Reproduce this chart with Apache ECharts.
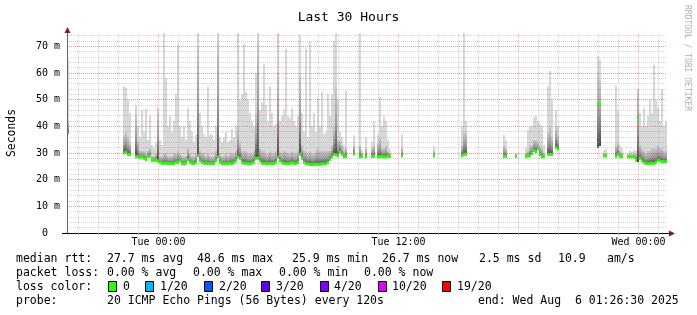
<!DOCTYPE html>
<html><head><meta charset="utf-8">
<script src="https://cdn.jsdelivr.net/npm/echarts@6/dist/echarts.min.js"></script>
<style>html,body{margin:0;padding:0;background:#fff}#c{width:697px;height:315px}</style>
</head><body><div id="c"></div>
<script>
const _ = null;
// time axis in hours relative to Tue 00:00; one column = 6 minutes
const stepHours = 0.1;
const startHour = -4.575;   // ~Mon 19:26
const endHour = 25.425;     // ~Wed 01:26

const medianRtt = [
37.5,_,_,_,_,_,_,_,_,_,
_,_,_,_,_,_,_,_,_,_,
_,_,_,_,_,_,_,_,30,30.3,
29.5,29.4,_,_,28.6,28.6,28.2,28.5,28,27.5,
28.8,28.8,27.3,27.3,27.3,27,26.5,26.2,26.2,26.2,
26.1,26,26,26.1,26.5,26.5,27,26,26,26.2,
27.5,26.5,26,26,26.3,29,27,26.5,26.2,26,
26.1,26,26,26,27,28.5,26.5,26,26,26.1,
26,26.2,26,26.3,27,28.5,28,26.5,26.2,26.2,
26,26,26.1,26.5,28,28,27,26.2,26.1,26,
26,26.2,26,26.1,26.5,28.5,27,26.3,26.2,26,
26,26.1,26.3,26.1,26,26.5,29.5,28,26.5,26,
25.9,25.7,25.7,25.7,25.8,25.8,25.8,25.9,26,26,
26.5,27.5,28.5,29.5,29.3,29,30.5,29.5,28.5,28.6,
_,_,_,29.6,_,_,28.6,28.6,_,28.6,
_,_,28.7,28.8,_,28.6,28.6,28.6,28.5,28.6,
28.7,28.8,_,_,_,_,_,28.9,_,_,
_,_,_,_,_,_,_,_,_,_,
_,_,_,28.9,_,_,_,_,_,_,
_,_,_,_,_,_,_,29,29.5,29.5,
_,_,_,_,_,_,_,_,_,_,
_,_,_,_,_,_,_,_,28.8,28.8,
_,_,_,_,28.8,_,_,_,_,28.8,
28.8,29,29.8,31,30.5,31.6,29.5,28.6,28.6,_,
29.4,29.4,29.4,_,32,31.5,_,_,_,_,
_,_,_,_,_,_,_,_,_,_,
_,_,_,_,_,48.4,48.4,_,28.9,28.9,
_,_,_,_,28.8,29.5,28.6,28.6,_,_,
28.6,28.6,28.6,28.4,27.3,43.5,28,27,26.3,26.1,
26,26,26.2,26.1,26.5,27.3,27,26.8,26.7,26.7
];
const smokeDark = [
42,_,_,_,_,_,_,_,_,_,
_,_,_,_,_,_,_,_,_,_,
_,_,_,_,_,_,_,_,37,38,
36,34,_,_,45,35,31,31,31,30,
31,32,29,29,30,45,29,29,30,30,
29,29,29,30,30,31,30,29,29,29,
32,30,29,29,30,70,31,30,30,29,
30,29,29,29,31,72,30,29,29,30,
29,30,30,30,31,40,34,31,31,31,
30,30,30,31,45,72,32,31,31,30,
30,31,30,30,31,60,31,30,31,31,
30,30,31,30,30,31,60,33,31,31,
30,31,30,30,31,32,31,31,31,31,
31,31,33,40,55,35,35,33,31,32,
_,_,_,33,_,_,33,30,_,32,
_,_,32,33,_,34,36,32,32,33,
31,30,_,_,_,_,_,32,_,_,
_,_,_,_,_,_,_,_,_,_,
_,_,_,31,_,_,_,_,_,_,
_,_,_,_,_,_,_,33,38,38,
_,_,_,_,_,_,_,_,_,_,
_,_,_,_,_,_,_,_,33,32,
_,_,_,_,29.5,_,_,_,_,30,
31,33,33,35,35,34,33,32,30,_,
38,40,36,_,40,37,_,_,_,_,
_,_,_,_,_,_,_,_,_,_,
_,_,_,_,_,60,58,_,30,30,
_,_,_,_,33,34,31,30,_,_,
29.5,30,29.5,30,30,54,33,32,31,30,
31,31,32,32,32,33,32,32,31,31
];
const smokePeak = [
65,_,_,_,_,_,_,_,_,_,
_,_,_,_,_,_,_,_,_,_,
_,_,_,_,_,_,_,_,55,54.6,
50,45,_,_,48,40,36,46,38,46.5,
35,44,33,32,34,47,35,33,75,58,
40,44,38,42,52,70.4,40,36,40,35,
47,42,38,34,37,75,45,40,37,36,
55,37,37,35,40,75,36,34,36,38,
34,35,39,36,40,75,50,52,71,53,
50,45,42,40,60,75,46,49,63.5,48,
42,55,45,40,41,75,42,44,46,69,
44,43,47,42,40,44,74,45,38,69,
36,72,40,45,38,50.4,40,53,37,38,
52,44,52,72,75,50,38,36,33,53.6,
_,_,_,36.7,_,_,75,31,_,36,
_,_,34,42,_,37,51,40,44,42,
35,31.5,_,_,_,_,_,37,_,_,
_,_,_,_,_,_,_,_,_,_,
_,_,_,32.5,_,_,_,_,_,_,
_,_,_,_,_,_,_,40,75,42,
_,_,_,_,_,_,_,_,_,_,
_,_,_,_,_,_,_,_,36.8,35,
_,_,_,_,30,_,_,_,_,32,
38.6,39.8,40,43.5,44,42,41,40,33,_,
55,60.8,50,_,46.3,40,_,_,_,_,
_,_,_,_,_,_,_,_,_,_,
_,_,_,_,_,66.2,65,_,31,31.6,
_,_,_,_,55.5,46,33,32,_,_,
30,31,30.5,31,31,54,45,40,47,40,
44,50,45,63,50,47,42,54,40,42
];
// columns whose smoke reaches below the median
const lowCols = [265, 266, 285];
const lowVals = [32.3, 33, 27];

const hourTicks = [-4,-3,-2,-1,0,1,2,3,4,5,6,7,8,9,10,11,12,13,14,15,16,17,18,19,20,21,22,23,24,25];
const majorHours = [0,6,12,18,24];
const xLabelHours = [0,12,24];
const xLabelText = ['Tue 00:00','Tue 12:00','Wed 00:00'];
const yMajor = [10,20,30,40,50,60,70];

const legendHeads = ['median rtt:','packet loss:','loss color:','probe:'];
const rttStats = ['27.7 ms avg','48.6 ms max','25.9 ms min','26.7 ms now','2.5 ms sd','10.9','am/s'];
const lossStats = ['0.00 % avg','0.00 % max','0.00 % min','0.00 % now'];
const lossNames = ['0','1/20','2/20','3/20','4/20','10/20','19/20'];
const lossColors = ['#26ff00','#00b8ff','#0059ff','#5e00ff','#7e00ff','#dd00ff','#ff0000'];
const probeText = '20 ICMP Echo Pings (56 Bytes) every 120s';
const endText = 'end: Wed Aug  6 01:26:30 2025';

const smokeData = [];
for (let c = 0; c < medianRtt.length; c++) {
  if (medianRtt[c] == null) continue;
  const li = lowCols.indexOf(c);
  const low = li >= 0 ? lowVals[li] : medianRtt[c];
  smokeData.push([startHour + (c + 0.5) * stepHours, medianRtt[c], smokeDark[c], smokePeak[c], low]);
}

function renderSmoke(params, api) {
  const x = api.value(0);
  const w = api.size([stepHours, 0])[0];
  const pMed = api.coord([x, api.value(1)]);
  const pDark = api.coord([x, api.value(2)]);
  const pPeak = api.coord([x, api.value(3)]);
  const pLow = api.coord([x, api.value(4)]);
  const left = pMed[0] - w / 2;
  return {type: 'group', children: [
    {type: 'rect', shape: {x: left, y: pPeak[1], width: w, height: Math.max(0, pDark[1] - pPeak[1])}, style: {fill: '#d8d8d8'}},
    {type: 'rect', shape: {x: left, y: pDark[1], width: w, height: Math.max(1, pLow[1] - pDark[1] + 1)},
      style: {fill: new echarts.graphic.LinearGradient(0, 0, 0, 1, [{offset: 0, color: '#cdcdcd'}, {offset: 0.55, color: '#9a9a9a'}, {offset: 1, color: '#474747'}])}},
    {type: 'rect', shape: {x: left, y: pMed[1] - 1.5, width: w, height: 3}, style: {fill: '#26ff00'}}
  ]};
}

const mono = 'DejaVu Sans Mono';
const chart = echarts.init(document.getElementById('c'), null, {renderer: 'canvas'});
const minorColor = 'rgba(150,150,150,0.42)';
const majorColor = 'rgba(230,70,70,0.42)';
const gridMarks = hourTicks.filter(h => majorHours.indexOf(h) < 0)
  .map(h => ({xAxis: h, lineStyle: {color: minorColor, type: [1, 1], width: 1}}))
  .concat(majorHours.map(h => ({xAxis: h, lineStyle: {color: majorColor, type: [1, 1], width: 1}})))
  .concat(yMajor.map(v => ({yAxis: v, lineStyle: {color: majorColor, type: [1, 1], width: 1}})));

chart.setOption({
  animation: false,
  backgroundColor: '#ffffff',
  title: {text: 'Last 30 Hours', left: 'center', top: 6,
    textStyle: {fontFamily: mono, fontSize: 13, fontWeight: 'normal', color: '#000'}},
  grid: {left: 67, right: 30, top: 33, bottom: 82, containLabel: false, outerBoundsMode: 'none'},
  xAxis: {
    type: 'value', min: startHour, max: endHour,
    axisLine: {show: true, onZero: false, lineStyle: {color: '#000', width: 1}},
    axisTick: {show: true, customValues: hourTicks, length: 2, lineStyle: {color: '#aaa'}},
    axisLabel: {customValues: xLabelHours, formatter: v => {const i = xLabelHours.indexOf(Math.round(v)); return i >= 0 ? xLabelText[i] : '';},
      fontFamily: mono, fontSize: 10, color: '#000', margin: 4},
    splitLine: {show: false}
  },
  yAxis: {
    type: 'value', min: 0, max: 75, interval: 2, z: 3,
    name: 'Seconds', nameLocation: 'middle', nameGap: 49,
    nameTextStyle: {fontFamily: mono, fontSize: 11.4, color: '#000'},
    axisLine: {show: true, onZero: false, lineStyle: {color: '#666'}},
    axisTick: {show: false},
    axisLabel: {formatter: v => v % 10 === 0 ? (v === 0 ? '0  ' : v + ' m') : '',
      fontFamily: mono, fontSize: 10, color: '#000', margin: 7},
    splitLine: {show: true, showMaxLine: false, showMinLine: false,
      lineStyle: {color: minorColor, type: [1, 1], width: 1}}
  },
  series: [
    {type: 'custom', renderItem: renderSmoke, data: smokeData, encode: {x: 0, y: [1, 2, 3, 4]}, clip: true, z: 2},
    {type: 'line', data: [], z: 5, silent: true,
      markLine: {silent: true, symbol: 'none', animation: false, label: {show: false}, data: gridMarks}}
  ]
});

// decorations: arrows, legend, watermark
const x0 = chart.convertToPixel({xAxisIndex: 0}, startHour);
const x1 = chart.convertToPixel({xAxisIndex: 0}, endHour);
const y0 = chart.convertToPixel({yAxisIndex: 0}, 0);
const yTop = chart.convertToPixel({yAxisIndex: 0}, 75);
const arrowColor = '#8b1a1a';
const g = [];
g.push({type: 'line', shape: {x1: x0 - 5, y1: y0 + 0.5, x2: x1 + 5, y2: y0 + 0.5}, style: {stroke: '#000', lineWidth: 1}});
g.push({type: 'line', shape: {x1: x0 + 0.5, y1: yTop, x2: x0 + 0.5, y2: yTop - 3}, style: {stroke: '#666', lineWidth: 1}});
g.push({type: 'polygon', shape: {points: [[x1 + 8, y0 + 0.5], [x1 + 2, y0 - 2.5], [x1 + 2, y0 + 3.5]]}, style: {fill: arrowColor}});
g.push({type: 'polygon', shape: {points: [[x0 + 0.5, yTop - 6], [x0 - 2.5, yTop], [x0 + 3.5, yTop]]}, style: {fill: arrowColor}});
g.push({type: 'text', x: 687, y: 5, rotation: -Math.PI / 2,
  style: {text: 'RRDTOOL / TOBI OETIKER', fontFamily: mono, fontSize: 8, fill: '#b0b0b0', align: 'left', verticalAlign: 'middle'}});

const lineY = [259, 273, 287, 301];
const valueX = 107;
const rttX = [107, 197, 292, 382, 479, 558, 607];
const lossX = [107, 193, 279, 364];
const boxX = [108, 145, 204, 261, 320, 378, 442];
const nameX = [123, 160, 219, 276, 334, 392, 457];
function txt(s, x, y) {
  return {type: 'text', x: x, y: y, style: {text: s, fontFamily: mono, fontSize: 11.5, fill: '#000', align: 'left', verticalAlign: 'middle'}};
}
legendHeads.forEach((s, i) => g.push(txt(s, 16, lineY[i])));
rttStats.forEach((s, i) => g.push(txt(s, rttX[i], lineY[0])));
lossStats.forEach((s, i) => g.push(txt(s, lossX[i], lineY[1])));
lossNames.forEach((s, i) => {
  g.push({type: 'rect', shape: {x: boxX[i] + 0.5, y: lineY[2] - 5.5, width: 8, height: 10}, style: {fill: lossColors[i], stroke: '#000', lineWidth: 1}});
  g.push(txt(s, nameX[i], lineY[2]));
});
g.push(txt(probeText, valueX, lineY[3]));
g.push(txt(endText, 478, lineY[3]));
chart.setOption({graphic: g});
</script>
</body></html>
